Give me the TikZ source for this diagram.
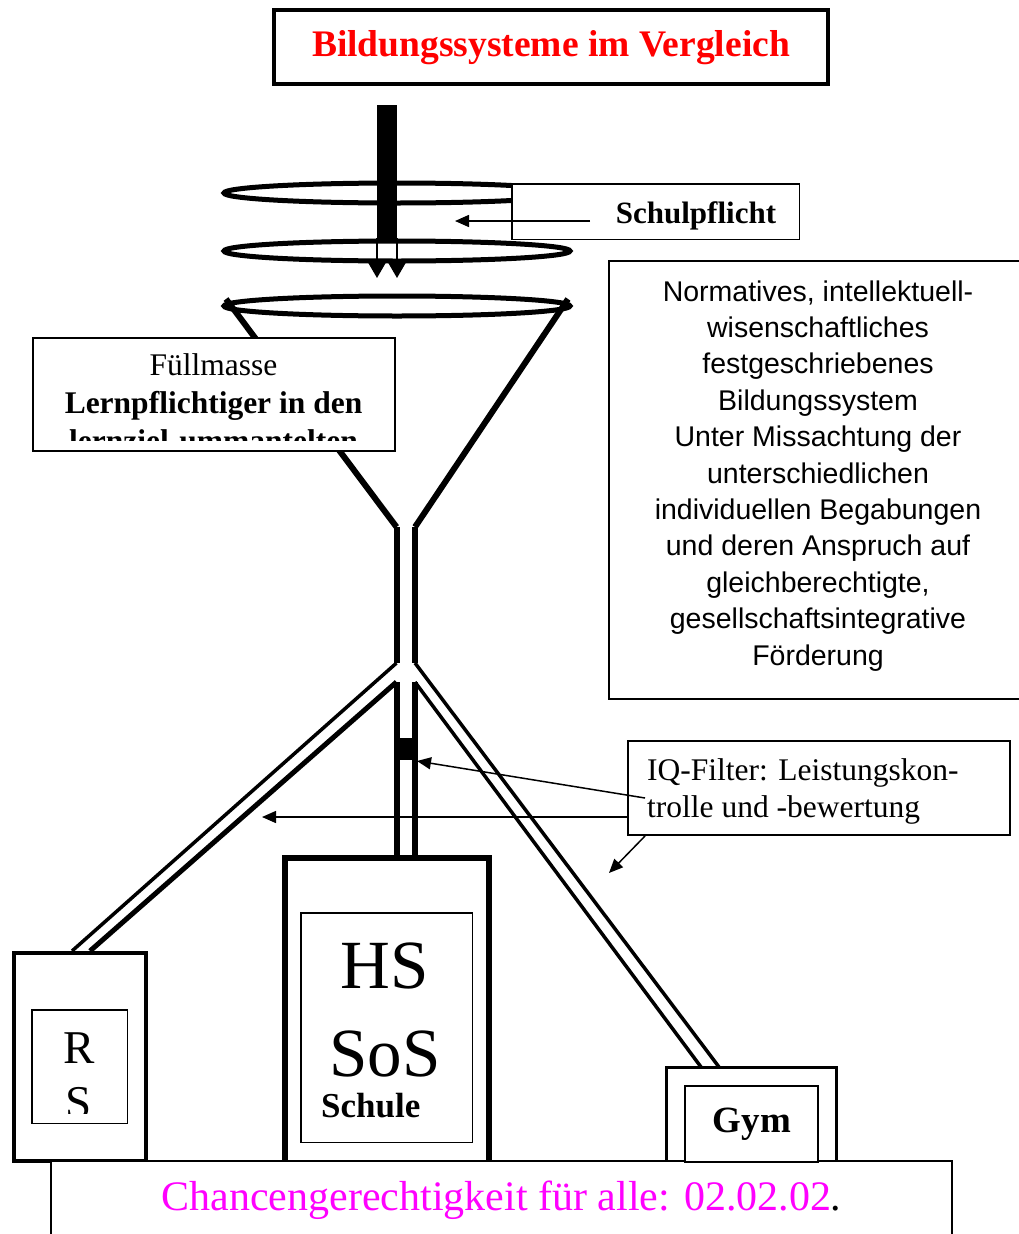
\documentclass[tikz,border=0pt]{standalone}
\usepackage{fontspec}
\setmainfont{Liberation Serif}
\newfontfamily\arialfont{Liberation Sans}
\usetikzlibrary{arrows.meta}
\tikzset{
  box/.style={draw=black, fill=white, inner sep=0pt, line width=1.5pt},
  box-thick/.style={box, line width=4pt},
  box-heavy/.style={box, line width=6pt},
  wall/.style={line width=6pt},
  ring/.style={line width=5pt},
  branch/.style={line width=3.5pt},
  pointer/.style={line width=1.5pt, -{Triangle[length=14pt,width=12pt]}},
  word/.style={inner sep=0pt, anchor=base}
}
\definecolor{titlered}{RGB}{255,0,0}
\definecolor{chancepink}{RGB}{255,0,255}
\newcommand{\drawring}[1]{
  \draw[ring] (397,#1) ellipse [x radius=173, y radius=10];
}

\begin{document}
\begin{tikzpicture}[x=1pt, y=-1pt]
  \useasboundingbox (0,0) rectangle (1019,1234);
  \clip (0,0) rectangle (1019,1234);
  % title
  \node[box-thick, minimum width=554pt, minimum height=74pt] (title) at (551,47) {};
  \node[word, text=titlered, font=\bfseries\fontsize{37.5}{42}\selectfont] (title-text) at (551,56) {Bildungssysteme im Vergleich};

  % rings round the rod
  \drawring{193}
  \node[box, minimum width=287.5pt, minimum height=55.5pt] (duty) at (655.5,211.5) {};
  \node[word, font=\bfseries\fontsize{31}{36}\selectfont] (duty-text) at (696,223) {Schulpflicht};
  \coordinate (duty-from) at (590,221);
  \coordinate (duty-to) at (455,221);
  \draw[pointer] (duty-from) -- (duty-to);
  \drawring{251}

  % rod with double tip
  \fill (377,105) rectangle (397,238);
  \draw[line width=1.5pt] (377,238) -- (397,238);
  \foreach \x in {377,397}
    \draw[line width=1.5pt, -{Triangle[length=15pt,width=17pt]}] (\x,238) -- (\x,278);

  % funnel
  \drawring{306}
  \draw[wall] (226,299) -- (396.5,527);
  \draw[wall] (568,299) -- (415,527);

  \node[box, line width=2pt, minimum width=362pt, minimum height=113pt] (fill) at (214,394.5) {};
  \begin{scope}
    \clip (33,338) rectangle (395,440);
    \node[word, font=\fontsize{31.5}{37}\selectfont] (fill-a) at (213.5,375) {Füllmasse};
    \node[word, font=\bfseries\fontsize{31.5}{37}\selectfont] (fill-b) at (213.5,413) {Lernpflichtiger in den};
    \node[word, font=\bfseries\fontsize{31.5}{37}\selectfont] (fill-c) at (213.5,451) {lernziel-ummantelten};
  \end{scope}

  % description
  \node[box, minimum width=431pt, minimum height=438pt] (norm) at (824.5,480) {};
  \foreach \txt [count=\i from 0] in {Normatives{,} intellektuell-, wisenschaftliches, festgeschriebenes, Bildungssystem, Unter Missachtung der, unterschiedlichen, individuellen Begabungen, und deren Anspruch auf, {gleichberechtigte,}, gesellschaftsintegrative, Förderung}
    \node[word, font=\arialfont\fontsize{28.5}{34}\selectfont] (norm-\i) at (818,{301+36.4*\i}) {\txt};

  % pipe and branches
  \draw[wall] (396.5,527) -- (396.5,663) (415,527) -- (415,663);
  \draw[wall] (396.5,682) -- (396.5,858) (415,682) -- (415,858);
  \draw[branch] (396.5,663) -- (72,951);
  \draw[branch, line width=5pt] (396.5,682) -- (90,951);
  \draw[branch] (415,663) -- (719,1067);
  \draw[branch] (415,682) -- (701,1067);
  \fill (396.5,738) rectangle (415,760);

  % IQ filter
  \node[box, line width=2pt, minimum width=382pt, minimum height=94pt] (iq) at (819,788) {};
  \node[word, anchor=base west, font=\fontsize{31.5}{37}\selectfont] (iq-a) at (647,780) {IQ-Filter: Leistungskon-};
  \node[word, anchor=base west, font=\fontsize{31.5}{37}\selectfont] (iq-b) at (647,817) {trolle und -bewertung};
  \coordinate (iq-p1) at (645,798);
  \coordinate (iq-p2) at (627,817);
  \coordinate (iq-p3) at (645,836);
  \coordinate (block) at (417,761);
  \coordinate (left-way) at (262,817);
  \coordinate (right-way) at (609,873);
  \draw[pointer] (iq-p1) -- (block);
  \draw[pointer] (iq-p2) -- (left-way);
  \draw[pointer] (iq-p3) -- (right-way);

  % schools
  \node[box-heavy, minimum width=204pt, minimum height=322pt] (hs) at (387,1019) {};
  \node[box, minimum width=171.5pt, minimum height=229.5pt] (hs-in) at (386.5,1027.5) {};
  \node[word, font=\fontsize{69}{75}\selectfont] (hs-a) at (385,988) {HS};
  \node[word, font=\fontsize{69}{75}\selectfont] (hs-b) at (385,1076) {SoS};
  \node[word, anchor=base west, font=\bfseries\fontsize{35}{40}\selectfont] (hs-c) at (321,1117) {Schule};

  \node[box-thick, minimum width=132pt, minimum height=208pt] (rs) at (80,1057) {};
  \node[box, minimum width=95.5pt, minimum height=113.5pt] (rs-in) at (79.5,1066.5) {};
  \begin{scope}
    \clip (31,1009) rectangle (128,1113);
    \node[word, font=\fontsize{47}{55}\selectfont] (rs-a) at (79,1063) {R};
    \node[word, font=\fontsize{47}{55}\selectfont] (rs-b) at (79,1118) {S};
  \end{scope}

  \node[box, line width=3pt, minimum width=170pt, minimum height=112.5pt] (gym) at (751.5,1123.75) {};

  % bottom banner
  \node[box, line width=2pt, minimum width=901pt, minimum height=99pt] (chance) at (501.5,1210.5) {};
  \node[word, font=\fontsize{42}{48}\selectfont] (chance-text) at (501.5,1210) {\textcolor{chancepink}{Chancengerechtigkeit für alle: 02.02.02}.};
  \node[box, line width=2pt, minimum width=133pt, minimum height=76pt] (gym-in) at (751.5,1124) {};
  \node[word, font=\bfseries\fontsize{37}{42}\selectfont] (gym-text) at (752,1132) {Gym};
\end{tikzpicture}
\end{document}
